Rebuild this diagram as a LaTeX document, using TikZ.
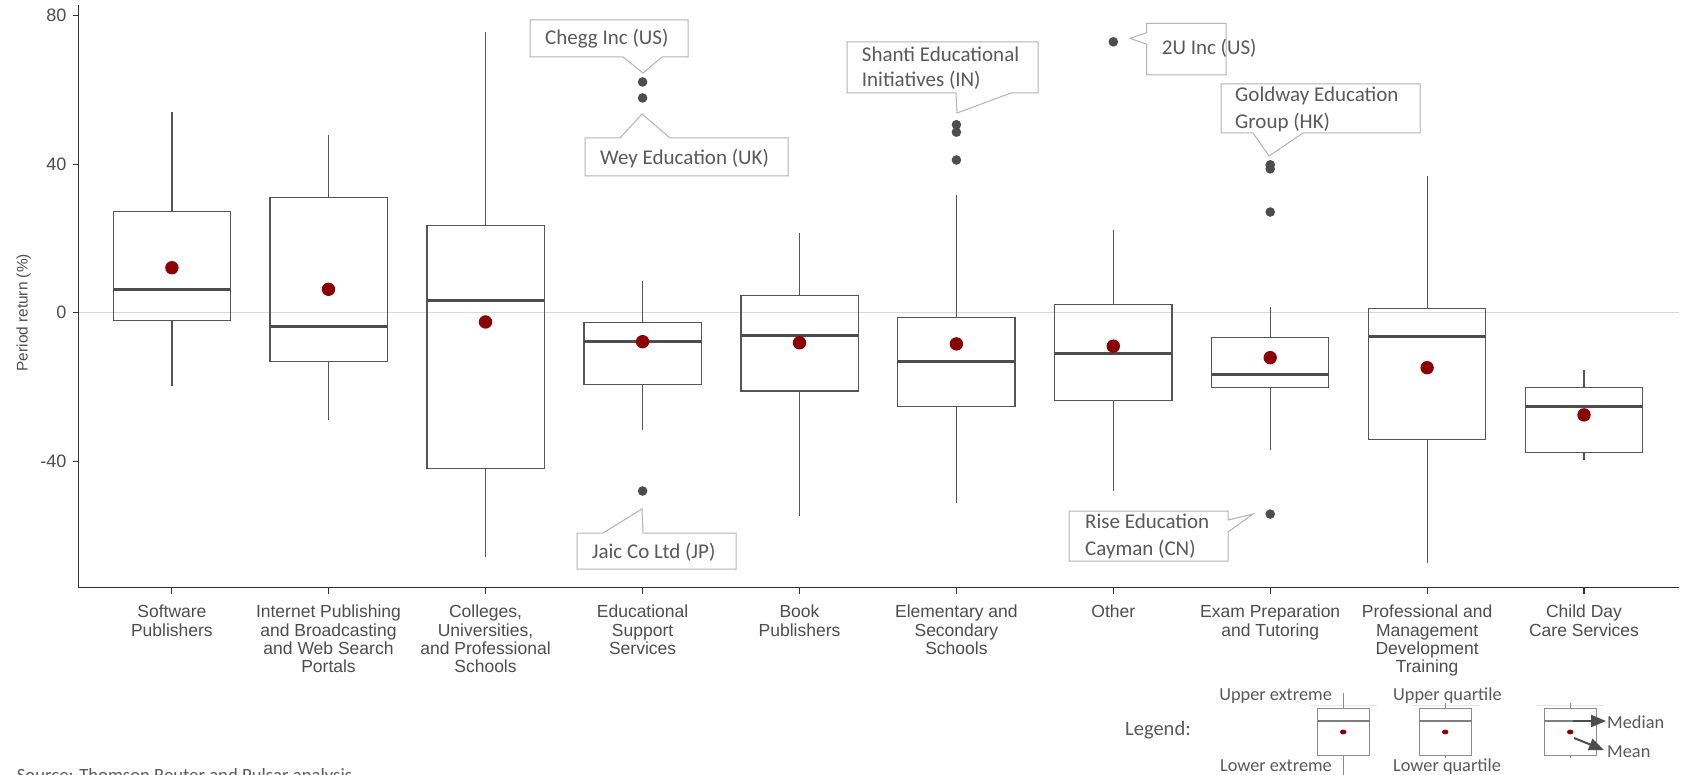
\documentclass[tikz,border=0pt]{standalone}
\usepackage{fontspec}
\setmainfont{Liberation Sans}
\newfontfamily\calfont{Carlito}
\usetikzlibrary{arrows.meta}
\definecolor{txt}{HTML}{4D4D4D}
\definecolor{ctxt}{HTML}{595959}
\definecolor{boxc}{HTML}{555555}
\definecolor{axc}{HTML}{333333}
\definecolor{medc}{HTML}{4D4D4D}
\definecolor{meanc}{HTML}{8B0000}
\definecolor{callc}{HTML}{B3B3B3}
\definecolor{gridc}{HTML}{D9D9D9}
\definecolor{legc}{HTML}{8C8C8C}
\definecolor{faintc}{HTML}{E6E6E6}
\begin{document}
\begin{tikzpicture}[x=1pt,y=-1pt,
  axisline/.style={draw=axc,line width=1.1pt},
  boxline/.style={draw=boxc,line width=1.2pt},
  medline/.style={draw=medc,line width=3pt},
  meandot/.style={fill=meanc},
  outdot/.style={fill=medc},
  catlabel/.style={anchor=north,align=center,inner sep=0pt,text=txt,font=\fontsize{17.5}{18.3}\selectfont},
  ticklabel/.style={anchor=east,inner sep=0pt,text=txt,font=\fontsize{18}{20}\selectfont},
  callout/.style={draw=callc,line width=1pt,fill=white},
  calltext/.style={anchor=base west,inner sep=0pt,text=ctxt,font=\calfont\fontsize{21}{25}\selectfont},
  legtext/.style={inner sep=0pt,text=ctxt,font=\calfont\fontsize{18.3}{22}\selectfont},
  legbox/.style={draw=legc,line width=0.9pt},
  legmed/.style={draw=legc!90!black,line width=1.5pt},
  legarrow/.style={draw=medc,line width=2pt,-{Triangle[length=15pt,width=12pt]}}]
\fill[white] (0,0) rectangle (1685,775);
\useasboundingbox (0,0) rectangle (1685,775);

% zero grid line
\draw[gridc,line width=1.5pt] (78.4,312.7) -- (1678.5,312.7);

% axes
\draw[axisline] (78.4,5.4) -- (78.4,587.8) -- (1678.5,587.8);
\foreach \yy/\lab in {15.5/80,164.1/40,312.7/0,461.3/-40}{
  \draw[axisline] (73,\yy) -- (78.4,\yy);
  \node[ticklabel] at (66.6,\yy) {\lab};
}
\node[rotate=90,inner sep=0pt,text=txt,font=\fontsize{15.4}{18}\selectfont] (ylab) at (23.6,312.7) {Period return (\%)};

% category ticks and labels
\foreach \cx/\nm/\lab in {
  171.9/c1/{Software\\Publishers},
  328.5/c2/{Internet Publishing\\and Broadcasting\\and Web Search\\Portals},
  485.5/c3/{Colleges,\\Universities,\\and Professional\\Schools},
  642.6/c4/{Educational\\Support\\Services},
  799.5/c5/{Book\\Publishers},
  956.4/c6/{Elementary and\\Secondary\\Schools},
  1113.3/c7/{Other},
  1270.2/c8/{Exam Preparation\\and Tutoring},
  1427.1/c9/{Professional and\\Management\\Development\\Training},
  1584/c10/{Child Day\\Care Services}}{
  \draw[axisline] (\cx,587.8) -- (\cx,593.5);
  \node[catlabel] (\nm) at (\cx,605) {\lab};
}

% data scope: y in percent
\begin{scope}[shift={(0,312.7)},y=3.7154pt]
\foreach \cx/\qa/\qb/\md/\wl/\wh/\mn in {
  171.9/-2.2/27.2/6.3/-19.6/54/12.1,
  328.5/-13.2/31/-3.6/-29/47.7/6.3,
  485.5/-42/23.4/3.15/-65.7/75.5/-2.5,
  642.6/-19.4/-2.6/-7.8/-31.5/8.4/-7.8,
  799.5/-21.1/4.6/-6.1/-54.7/21.4/-8.1,
  956.4/-25.2/-1.2/-13/-51.2/31.8/-8.4,
  1113.3/-23.7/2.3/-11/-48/22.3/-9,
  1270.2/-20.2/-6.7/-16.5/-37/1.4/-12.1,
  1427.1/-34.1/1.2/-6.4/-67.4/36.7/-14.8,
  1584/-37.6/-20.2/-25.2/-39.6/-15.3/-27.5}{
  \draw[boxline] (\cx-58.6,\qa) rectangle (\cx+58.6,\qb);
  \draw[boxline] (\cx,\qb) -- (\cx,\wh);
  \draw[boxline] (\cx,\qa) -- (\cx,\wl);
  \draw[medline] (\cx-58.6,\md) -- (\cx+58.6,\md);
  \fill[meandot] (\cx,\mn) circle[radius=6.7pt];
}
\foreach \cx/\v in {642.6/62.1,642.6/57.8,642.6/-48,956.4/50.6,956.4/48.6,956.4/41.1,
  1113.3/72.9,1270.2/39.8,1270.2/38.7,1270.2/27.1,1270.2/-54.2}{
  \fill[outdot] (\cx,\v) circle[radius=4.8pt];
}
\end{scope}

% callouts
\draw[callout] (530,20) -- (688,20) -- (688,57) -- (662,57) -- (643,73) -- (623,57) -- (530,57) -- cycle;
\node[calltext] (chegg) at (545,45) {Chegg Inc (US)};

\draw[callout] (585,138) -- (620,138) -- (642,114) -- (670,138) -- (788,138) -- (788,176) -- (585,176) -- cycle;
\node[calltext] (wey) at (600,165) {Wey Education (UK)};

\draw[callout] (577,533) -- (603,533) -- (642,509) -- (643,533) -- (736,533) -- (736,569) -- (577,569) -- cycle;
\node[calltext] (jaic) at (591.7,558.3) {Jaic Co Ltd (JP)};

\draw[callout] (847,42) -- (1038,42) -- (1038,93) -- (1011,93) -- (957,113) -- (956,93) -- (847,93) -- cycle;
\node[calltext] (shanti1) at (861.7,61.7) {Shanti Educational};
\node[calltext] (shanti2) at (861.7,86.7) {Initiatives (IN)};

\draw[callout] (1146.7,23.3) -- (1226,23.3) -- (1226,75) -- (1146.7,75) -- (1146.7,44.3) -- (1130,38.3) -- (1146.7,32.7) -- cycle;
\node[calltext] (twou) at (1161.7,55) {2U Inc (US)};

\draw[callout] (1221,84) -- (1420,84) -- (1420,133) -- (1303,133) -- (1269,156) -- (1253,133) -- (1221,133) -- cycle;
\node[calltext] (gold1) at (1235,101.7) {Goldway Education};
\node[calltext] (gold2) at (1235,128.5) {Group (HK)};

\draw[callout] (1069,511) -- (1228,511) -- (1228,520) -- (1253,514) -- (1228,532) -- (1228,561) -- (1069,561) -- cycle;
\node[calltext] (rise1) at (1085,528.3) {Rise Education};
\node[calltext] (rise2) at (1085,555.7) {Cayman (CN)};

% legend
\node[legtext,anchor=base west,font=\calfont\fontsize{20.5}{24}\selectfont] (legend) at (1125,735) {Legend:};
\foreach \bx in {1317,1419,1544}{
  \draw[faintc,line width=1pt] (\bx-7,705) -- (\bx+60,705);
  \draw[legbox] (\bx,708) rectangle (\bx+52.5,755);
  \draw[legmed] (\bx,721) -- (\bx+52.5,721);
  \fill[meanc] (\bx+26.2,732) ellipse[x radius=3.3pt,y radius=2.4pt];
}
\draw[legbox] (1343.2,693) -- (1343.2,708);
\draw[legbox] (1343.2,755) -- (1343.2,775);
\draw[legbox] (1445.2,703) -- (1445.2,708);
\draw[legbox] (1445.2,755) -- (1445.2,758);
\draw[legbox] (1570.2,703) -- (1570.2,708);
\draw[legbox] (1570.2,755) -- (1570.2,758);
\coordinate (medA) at (1573,721);
\coordinate (medB) at (1606,721);
\coordinate (meanA) at (1574,738);
\coordinate (meanB) at (1604,750);
\draw[legarrow] (medA) -- (medB);
\draw[legarrow] (meanA) -- (meanB);
\node[legtext,anchor=base east] (uext) at (1332,700.7) {Upper extreme};
\node[legtext,anchor=base east] (lext) at (1332,771.7) {Lower extreme};
\node[legtext,anchor=base west] (uq) at (1393,700.7) {Upper quartile};
\node[legtext,anchor=base west] (lq) at (1393,771.7) {Lower quartile};
\node[legtext,anchor=base west] (med) at (1607,728.3) {Median};
\node[legtext,anchor=base west] (mean) at (1607,757.7) {Mean};

% source
\node[inner sep=0pt,anchor=base west,text=ctxt,font=\calfont\fontsize{18.7}{22}\selectfont] (src) at (16.7,781) {Source: Thomson Reuter and Pulsar analysis};
\end{tikzpicture}
\end{document}
